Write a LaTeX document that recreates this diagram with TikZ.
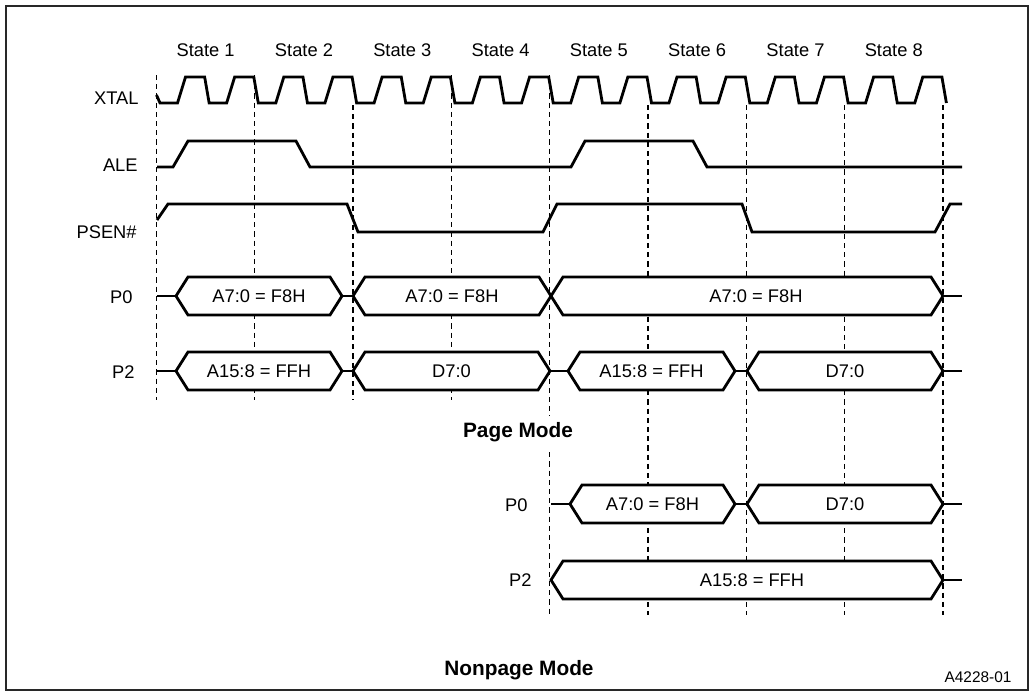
\documentclass[tikz,border=0pt]{standalone}
\usepackage{fontspec}
\setmainfont{Liberation Sans}
\usepackage{tikz}
\definecolor{marco}{RGB}{40,40,40}
% caja de bus: [desplazamiento texto]{nombre}{x izq}{x der}{y centro}{texto}
\newcommand{\cajabus}[6][0]{%
  \draw[senal, fill=white] (#3,#5) -- (#3+12,#5-19) -- (#4-12,#5-19) -- (#4,#5)
    -- (#4-12,#5+19) -- (#3+12,#5+19) -- cycle;
  \node (#2) at ({(#3+#4)/2+#1},#5) {#6};}

\begin{document}
\begin{tikzpicture}[x=0.5pt, y=-0.5pt,
    senal/.style={line width=1.4pt},
    guia/.style={line width=0.65pt, dash pattern=on 2.6pt off 2pt},
    every node/.style={inner sep=0pt, font=\fontsize{9.15}{11}\selectfont},
    rotulo/.style={anchor=east},
    modo/.style={fill=white, inner sep=3pt, font=\bfseries\fontsize{10.4}{12}\selectfont}]
    \useasboundingbox (0,0) rectangle (1031,696);
    \draw[marco, line width=0.8pt] (6,6) rectangle (1028,690);
    % estados
    \foreach \i in {1,...,8}
        \node (st\i) at ({156.5+98.3*(\i-0.5)},50) {State \i};
    % lineas guia punteadas
    \foreach \i/\ya/\yb in {0/75/400, 1/75/400, 2/105/400, 3/75/400, 4/75/615,
                            5/105/615, 6/105/615, 7/105/615, 8/105/615}
        \draw[guia] ({156.5+98.3*\i},\ya) -- ({156.5+98.3*\i},\yb);
    % nombres de las senales
    \node[rotulo] (lxtal) at (139,98) {XTAL};
    \node[rotulo] (lale) at (138,165) {ALE};
    \node[rotulo] (lpsen) at (137,232) {PSEN\#};
    \node[rotulo] (lp0) at (133,297) {P0};
    \node[rotulo] (lp2) at (135,372) {P2};
    % XTAL: dos periodos por estado
    \draw[senal] (156.5,95) foreach \k in {0,...,15} {
        -- ({160+49.15*\k},103) -- ({177.5+49.15*\k},103)
        -- ({185.5+49.15*\k},77) -- ({204.65+49.15*\k},77) } -- (946.4,103);
    % ALE
    \draw[senal] (157,167) -- (173,167) -- (188,141) -- (296,141) -- (310,167)
        -- (571,167) -- (585,141) -- (693,141) -- (707,167) -- (962,167);
    % PSEN#
    \draw[senal] (157,220) -- (168,204) -- (347,204) -- (358,232) -- (543,232)
        -- (557,204) -- (742,204) -- (752,232) -- (935,232) -- (950,204) -- (962,204);
    % P0 (page mode)
    \draw[senal] (157,296) -- (176,296);
    \cajabus{p0a}{176}{342}{296}{A7:0 = F8H}
    \draw[senal] (342,296) -- (353,296);
    \cajabus{p0b}{353}{551}{296}{A7:0 = F8H}
    \cajabus[9]{p0c}{551}{943}{296}{A7:0 = F8H}
    \draw[senal] (943,296) -- (962,296);
    % P2 (page mode)
    \draw[senal] (157,371) -- (176,371);
    \cajabus{p2a}{176}{342}{371}{A15:8 = FFH}
    \draw[senal] (342,371) -- (353,371);
    \cajabus{p2b}{353}{550}{371}{D7:0}
    \draw[senal] (550,371) -- (568,371);
    \cajabus{p2c}{568}{735}{371}{A15:8 = FFH}
    \draw[senal] (735,371) -- (747,371);
    \cajabus{p2d}{747}{943}{371}{D7:0}
    \draw[senal] (943,371) -- (962,371);
    \node[modo] (pagina) at (518,432) {Page Mode};
    % nonpage mode
    \node[rotulo] (np0) at (528,505) {P0};
    \node[rotulo] (np2) at (532,580) {P2};
    \draw[senal] (551,504) -- (570,504);
    \cajabus{n0a}{570}{735}{504}{A7:0 = F8H}
    \draw[senal] (735,504) -- (747,504);
    \cajabus{n0b}{747}{943}{504}{D7:0}
    \draw[senal] (943,504) -- (962,504);
    \cajabus[5]{n2a}{551}{943}{580}{A15:8 = FFH}
    \draw[senal] (943,580) -- (962,580);
    \node[modo] (nopagina) at (519,670) {Nonpage Mode};
    \node[font=\fontsize{7.7}{9}\selectfont] (ref) at (978,677) {A4228-01};
\end{tikzpicture}
\end{document}
